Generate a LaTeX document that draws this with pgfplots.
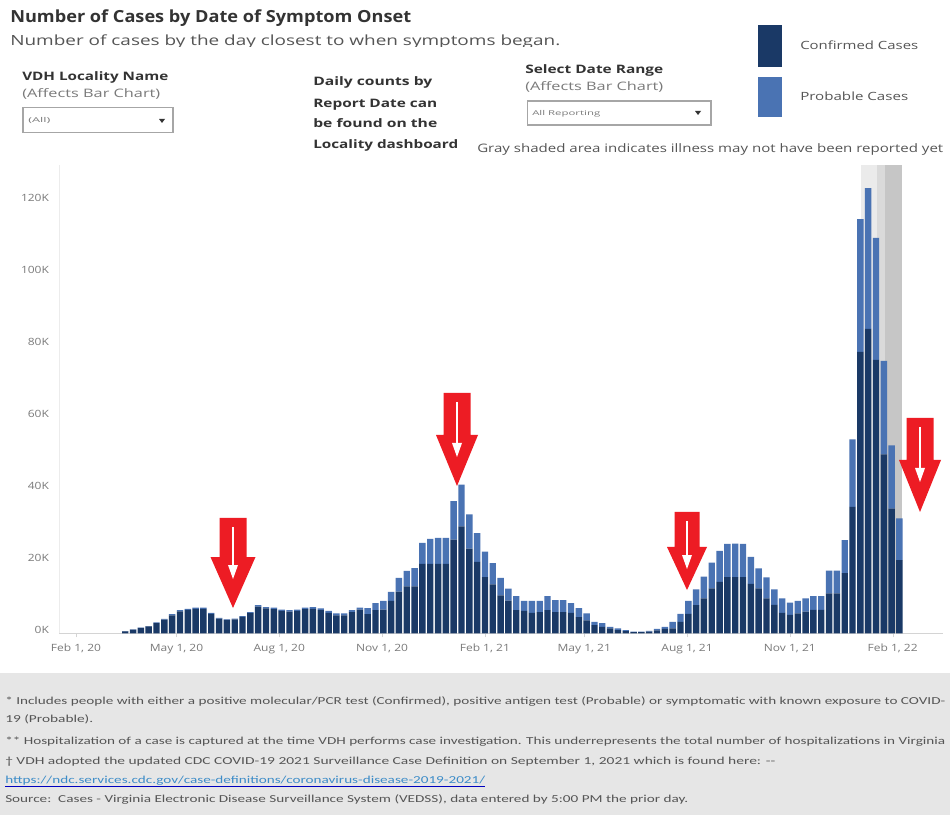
\documentclass[border=0pt]{standalone}
\usepackage{graphicx}
\usepackage{fontspec}
\usepackage{pgfplots}
\pgfplotsset{compat=1.18}
\usepackage{pgfplotstable}
\setmainfont{Open Sans}
\newfontfamily\carl{Carlito}

\definecolor{conf}{HTML}{1A3966}
\definecolor{prob}{HTML}{4A73B3}
\definecolor{txt}{HTML}{333333}
\definecolor{sub}{HTML}{555555}
\definecolor{lite}{HTML}{7A7A7A}
\definecolor{axisgray}{HTML}{D4D4D4}
\definecolor{footbg}{HTML}{E6E6E6}
\definecolor{arrred}{HTML}{ED1C24}
\definecolor{link}{HTML}{3C8CC8}
\definecolor{shadeA}{HTML}{EBEBEB}
\definecolor{shadeB}{HTML}{DADADA}
\definecolor{shadeC}{HTML}{C6C6C6}

\newdimen\px \px=0.75pt
% stretch text horizontally to a width given in pixels
\newcommand\fitx[2]{\resizebox{#1\px}{\height}{#2}}
\newcommand\tl[1]{\scalebox{1.2}[1]{#1}}
\newcommand\redarrow[6]{% cx, top, head top, tip, half shaft, half head
  \fill[arrred] (#1-#5,#2) -- (#1+#5,#2) -- (#1+#5,#3) -- (#1+#6,#3) -- (#1,#4)
    -- (#1-#6,#3) -- (#1-#5,#3) -- cycle;
  \draw[white,line width=1.5pt] (#1,#2+9) -- (#1,#3+12);
  \fill[white] (#1-5,#3+8) -- (#1+5,#3+8) -- (#1,#3+22) -- cycle;
}

% weekly cases (thousands): k = week index, c = confirmed, p = probable
\pgfplotstableread{
k c p
6 0.55 0.05
7 1.0 0.1
8 1.5 0.1
9 1.9 0.1
10 2.85 0.15
11 3.8 0.2
12 5.0 0.3
13 6.1 0.3
14 6.5 0.3
15 6.8 0.3
16 6.8 0.3
17 5.4 0.3
18 4.1 0.2
19 3.7 0.2
20 3.9 0.2
21 4.55 0.25
22 5.6 0.3
23 7.4 0.4
24 6.9 0.4
25 6.7 0.4
26 6.2 0.4
27 6.0 0.4
28 6.2 0.4
29 6.7 0.4
30 6.8 0.5
31 6.4 0.5
32 5.7 0.5
33 5.0 0.5
34 5.0 0.5
35 5.9 0.5
36 6.6 0.5
37 5.3 1.7
38 6.4 2.0
39 6.6 2.4
40 9.0 2.5
41 11.6 3.8
42 13.0 4.3
43 13.0 5.1
44 19.3 5.8
45 19.3 6.9
46 19.3 7.2
47 19.3 7.2
48 26.0 10.7
49 29.7 11.6
50 23.5 9.5
51 19.8 8.0
52 15.6 7.1
53 13.6 5.9
54 10.5 4.9
55 9.1 3.3
56 6.4 3.9
57 6.2 2.8
58 5.7 3.3
59 5.9 3.1
60 6.4 3.9
61 5.9 3.3
62 5.9 3.3
63 5.7 2.7
64 4.5 2.5
65 3.6 1.9
66 2.3 0.9
67 1.8 1.0
68 1.4 0.4
69 0.9 0.5
70 0.6 0.3
71 0.3 0.2
72 0.3 0.15
73 0.5 0.2
74 0.8 0.4
75 1.2 0.6
76 1.4 1.8
77 3.2 2.2
78 5.4 3.6
79 7.8 4.4
80 9.7 6.0
81 12.5 7.1
82 14.3 8.6
83 15.6 9.2
84 15.6 9.3
85 15.6 9.2
86 13.7 7.5
87 12.5 5.5
88 9.7 5.8
89 7.9 4.3
90 5.7 4.0
91 5.1 3.4
92 5.5 3.5
93 6.0 3.7
94 6.5 3.8
95 6.5 3.8
96 11.1 6.3
97 11.1 6.3
98 16.7 9.2
99 35.1 18.7
100 78.1 36.9
101 84.5 39.1
102 75.9 33.9
103 49.7 25.9
104 34.6 17.6
105 20.3 11.6
}\cases

\begin{document}
\begin{tikzpicture}
\begin{scope}[x=0.75pt,y=-0.75pt,yshift=611.25pt]
  \path[use as bounding box,fill=white] (0,0) rectangle (950,815);
  % header
  \node[anchor=base west,inner sep=0,text=txt] at (10,23)
    {\fitx{401}{\fontsize{12.5}{15}\selectfont\bfseries Number of Cases by Date of Symptom Onset}};
  \begin{scope}
    \clip (0,25) rectangle (950,47);
    \node[anchor=base west,inner sep=0,text=sub] at (10,45.5)
      {\fitx{550}{\fontsize{10.5}{12}\selectfont Number of cases by the day closest to when symptoms began.}};
  \end{scope}
  % locality filter
  \node[anchor=base west,inner sep=0,text=txt] at (22,80.5)
    {\fitx{146}{\fontsize{8.75}{10}\selectfont\bfseries VDH Locality Name}};
  \node[anchor=base west,inner sep=0,text=lite] at (22,98)
    {\fitx{138}{\fontsize{8.75}{10}\selectfont (Affects Bar Chart)}};
  \draw[gray!70,line width=0.8pt] (23,107.5) rectangle (173,132.5);
  \node[anchor=base west,inner sep=0,text=lite] at (28,122.5)
    {\fitx{22}{\fontsize{5}{6}\selectfont (All)}};
  \fill[txt] (159,119) -- (165,119) -- (162,123) -- cycle;
  % note
  \foreach \y/\w/\t in {86/119/Daily counts by, 107.5/124/Report Date can,
                        128/124/be found on the, 148.5/145/Locality dashboard}
    \node[anchor=base west,inner sep=0,text=txt] at (313,\y)
      {\fitx{\w}{\fontsize{8.75}{10}\selectfont\bfseries \t}};
  % date range filter
  \node[anchor=base west,inner sep=0,text=txt] at (525,73.5)
    {\fitx{138}{\fontsize{8.75}{10}\selectfont\bfseries Select Date Range}};
  \node[anchor=base west,inner sep=0,text=lite] at (525,91)
    {\fitx{138}{\fontsize{8.75}{10}\selectfont (Affects Bar Chart)}};
  \draw[gray!70,line width=0.8pt] (527.5,101) rectangle (711,125);
  \node[anchor=base west,inner sep=0,text=lite] at (532,115.5)
    {\fitx{68}{\fontsize{5}{6}\selectfont All Reporting}};
  \fill[txt] (695,111) -- (701,111) -- (698,115) -- cycle;
  % legend
  \fill[conf] (758.3,25) rectangle (781.7,66.7);
  \fill[prob] (758.3,76.7) rectangle (781.7,116.7);
  \node[anchor=base west,inner sep=0,text=sub] at (800,50)
    {\fitx{118}{\fontsize{8.5}{10}\selectfont Confirmed Cases}};
  \node[anchor=base west,inner sep=0,text=sub] at (800,101)
    {\fitx{108}{\fontsize{8.5}{10}\selectfont Probable Cases}};
  \node[anchor=base west,inner sep=0,text=sub] at (477,152.5)
    {\fitx{466}{\fontsize{8.75}{10}\selectfont Gray shaded area indicates illness may not have been reported yet}};
  % shaded "not yet reported" band, behind the bars
  \fill[shadeA] (861,165) rectangle (902,633.3);
  \fill[shadeB] (877,165) rectangle (902,633.3);
  \fill[shadeC] (885,165) rectangle (902,633.3);
  % footer
  \fill[footbg] (0,672.5) rectangle (950,815);
  \begin{scope}[every node/.style={anchor=base west,inner sep=0,text=sub}]
    \node at (5,704) {\fitx{940}{\carl\fontsize{8}{9}\selectfont * Includes people with either a positive molecular/PCR test (Confirmed), positive antigen test (Probable) or symptomatic with known exposure to COVID-}};
    \node at (5,722) {\fitx{88}{\carl\fontsize{8}{9}\selectfont 19 (Probable).}};
    \node at (5,744) {\fitx{940}{\carl\fontsize{8}{9}\selectfont ** Hospitalization of a case is captured at the time VDH performs case investigation. This underrepresents the total number of hospitalizations in Virginia}};
    \node at (5,764) {\fitx{770}{\carl\fontsize{8}{9}\selectfont † VDH adopted the updated CDC COVID-19 2021 Surveillance Case Definition on September 1, 2021 which is found here: --}};
    \node[text=link] at (5,783) {\fitx{480}{\carl\fontsize{8}{9}\selectfont https://ndc.services.cdc.gov/case-definitions/coronavirus-disease-2019-2021/}};
    \draw[blue!75!black,line width=1pt] (5,786.5) -- (485,786.5);
    \node at (5,802) {\fitx{683}{\carl\fontsize{8}{9}\selectfont Source:\ \ Cases - Virginia Electronic Disease Surveillance System (VEDSS), data entered by 5:00 PM the prior day.}};
  \end{scope}
\end{scope}

\begin{axis}[
  at={(44.25pt,136.275pt)}, anchor=south west,
  scale only axis, width=663pt, height=351.225pt,
  ybar stacked, bar width=0.82,
  xmin=-2.47, xmax=110.57, ymin=0, ymax=130,
  axis lines*=left,
  x axis line style={draw=axisgray},
  y axis line style={draw=axisgray!45},
  tick align=outside, major tick length=3pt,
  xtick={-0.3,12.557,25.7,38.843,51.986,64.7,77.843,90.986,104.13},
  xticklabels={\tl{Feb 1, 20},\tl{May 1, 20},\tl{Aug 1, 20},\tl{Nov 1, 20},
    \tl{Feb 1, 21},\tl{May 1, 21},\tl{Aug 1, 21},\tl{Nov 1, 21},\tl{Feb 1, 22}},
  ytick={0,20,40,60,80,100,120},
  yticklabels={\tl{0K},\tl{20K},\tl{40K},\tl{60K},\tl{80K},\tl{100K},\tl{120K}},
  xtick style={draw=axisgray}, ytick style={draw=none},
  tick label style={font=\fontsize{7.5}{9}\selectfont, text=lite},
  yticklabel style={xshift=-1pt, yshift=2.5pt},
  xticklabel style={yshift=-1.5pt},
]
\addplot[fill=conf, draw=none] table[x=k, y=c] {\cases};
\addplot[fill=prob, draw=none] table[x=k, y=p] {\cases};
\end{axis}

\begin{scope}[x=0.75pt,y=-0.75pt,yshift=611.25pt]
  \redarrow{233}{518}{557}{608}{13.5}{22.5}
  \redarrow{457}{393}{435}{486}{13.5}{21}
  \redarrow{687}{512}{547}{590}{12.5}{20}
  \redarrow{920}{418}{460}{512}{13.5}{21}
\end{scope}
\end{tikzpicture}
\end{document}
